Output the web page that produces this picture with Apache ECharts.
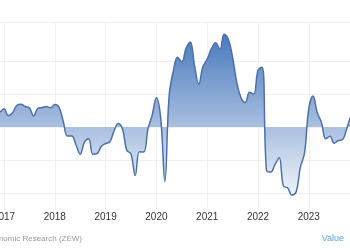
<!DOCTYPE html>
<html>
<head>
<meta charset="utf-8">
<script src="https://cdn.jsdelivr.net/npm/echarts@6/dist/echarts.min.js"></script>
<style>
    html, body { margin: 0; padding: 0; background: #fff; }
    #chart { width: 350px; height: 250px; }
</style>
</head>
<body>
<div id="chart"></div>
<script>
// months (yyyy-mm) and the ZEW sentiment value for each one
const months = [
    '2016-07', '2016-08', '2016-09', '2016-10', '2016-11', '2016-12',
    '2017-01', '2017-02', '2017-03', '2017-04', '2017-05', '2017-06', '2017-07', '2017-08', '2017-09', '2017-10', '2017-11', '2017-12',
    '2018-01', '2018-02', '2018-03', '2018-04', '2018-05', '2018-06', '2018-07', '2018-08', '2018-09', '2018-10', '2018-11', '2018-12',
    '2019-01', '2019-02', '2019-03', '2019-04', '2019-05', '2019-06', '2019-07', '2019-08', '2019-09', '2019-10', '2019-11', '2019-12',
    '2020-01', '2020-02', '2020-03', '2020-04', '2020-05', '2020-06', '2020-07', '2020-08', '2020-09', '2020-10', '2020-11', '2020-12',
    '2021-01', '2021-02', '2021-03', '2021-04', '2021-05', '2021-06', '2021-07', '2021-08', '2021-09', '2021-10', '2021-11', '2021-12',
    '2022-01', '2022-02', '2022-03', '2022-04', '2022-05', '2022-06', '2022-07', '2022-08', '2022-09', '2022-10', '2022-11', '2022-12',
    '2023-01', '2023-02', '2023-03', '2023-04', '2023-05', '2023-06', '2023-07', '2023-08', '2023-09', '2023-10', '2023-11', '2023-12'
]
const values = [
    -6.8, 0.5, 0.5, 6.2, 13.8, 13.8,
    16.6, 10.4, 12.8, 19.5, 20.6, 18.6, 17.5, 10.0, 17.0, 17.6, 18.7, 17.4,
    20.4, 17.8, 5.1, -8.2, -8.2, -16.1, -24.7, -13.7, -10.6, -24.7, -24.1, -17.5,
    -15.0, -13.4, -3.6, 3.1, -2.1, -21.1, -24.5, -44.1, -22.5, -22.8, -2.1, 10.7,
    26.7, 8.7, -49.5, 28.2, 51.0, 63.4, 59.3, 71.5, 77.4, 56.1, 39.0, 55.0,
    61.8, 71.2, 76.6, 70.7, 84.4, 79.8, 63.3, 40.4, 26.5, 22.3, 31.7, 29.9,
    51.7, 54.3, -39.3, -41.0, -34.3, -28.0, -53.8, -55.3, -61.9, -59.2, -36.7, -23.3,
    16.9, 28.1, 13.0, 4.1, -10.7, -8.5, -14.7, -12.3, -11.4, -1.1, 9.8, 12.8
]
// year labels that show under the axis
const yearLabels = [2017, 2018, 2019, 2020, 2021, 2022, 2023]
// horizontal grid lines (the right-hand value labels are cut off in the picture)
const yGridLines = [-60, -30, 0, 30, 60, 95.5]

// month string -> decimal year, so the x axis can be a plain value axis
const points = months.map((m, i) => {
    const [y, mo] = m.split('-').map(Number)
    return [y + (mo - 1) / 12, values[i]]
})

const myChart = echarts.init(document.getElementById('chart'))
myChart.setOption({
    animation: false,
    grid: {
        // the plot runs past both edges of the picture
        left: -46.8,
        right: -60.4,
        top: 22,
        bottom: 40,
        containLabel: false,
        outerBoundsMode: 'none'
    },
    xAxis: {
        type: 'value',
        min: 2016,
        max: 2025,
        interval: 1,
        axisLine: { show: true, lineStyle: { color: '#e6e6e6', width: 1 } },
        axisTick: { show: false },
        axisLabel: {
            color: '#333',
            fontFamily: 'Liberation Sans, Arial, sans-serif',
            fontSize: 10,
            margin: 2,
            formatter: v => yearLabels.includes(v) ? String(v) : ''
        },
        splitLine: { show: true, lineStyle: { color: '#f0f0f0', width: 1 } }
    },
    yAxis: {
        type: 'value',
        min: -75.5,
        max: 95.5,
        axisLine: { show: false },
        axisTick: { show: false },
        axisLabel: { show: false },
        splitLine: { show: false }
    },
    series: [
        {
            type: 'line',
            data: points,
            smooth: 0.4,
            showSymbol: false,
            z: 3,
            lineStyle: { color: '#4d71a6', width: 1.5 },
            areaStyle: {
                origin: 0,
                color: {
                    type: 'linear',
                    x: 0, y: 22, x2: 0, y2: 210,
                    colorStops: [
                        { offset: 0, color: '#3c70b9' },
                        { offset: 1, color: '#ffffff' }
                    ],
                    global: true
                },
                opacity: 1
            },
            markLine: {
                silent: true,
                z: 1,
                symbol: ['none', 'none'],
                label: { show: false },
                lineStyle: { color: '#efefef', type: 'solid', width: 1 },
                data: yGridLines.map(v => ({ yAxis: v }))
            }
        }
    ],
    graphic: [
        {
            type: 'text',
            x: 82,
            y: 239,
            style: {
                text: 'Source: Centre for European Economic Research (ZEW)',
                align: 'right',
                verticalAlign: 'middle',
                fill: '#999',
                font: '8px Liberation Sans, Arial, sans-serif'
            }
        },
        {
            type: 'text',
            x: 344,
            y: 239,
            style: {
                text: 'Value',
                align: 'right',
                verticalAlign: 'middle',
                fill: '#5ba3dc',
                font: '9px Liberation Sans, Arial, sans-serif'
            }
        }
    ]
})
</script>
</body>
</html>
